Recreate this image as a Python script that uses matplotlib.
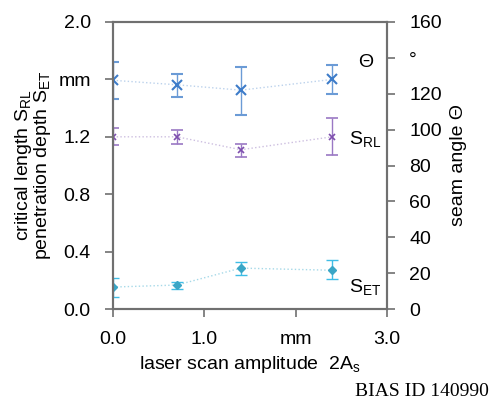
import matplotlib
matplotlib.use("Agg")
import matplotlib.pyplot as plt

plt.rcParams['font.family'] = ['Liberation Sans', 'DejaVu Sans']

x = [0.0, 0.7, 1.4, 2.4]
theta = [127.5, 125.0, 122.0, 128.0]
theta_lo = [117.0, 118.0, 108.0, 120.0]
theta_hi = [137.5, 131.0, 135.0, 136.0]
srl = [1.20, 1.20, 1.11, 1.20]
srl_lo = [1.14, 1.15, 1.06, 1.07]
srl_hi = [1.26, 1.25, 1.15, 1.33]
set_ = [0.153, 0.167, 0.285, 0.270]
set_lo = [0.085, 0.14, 0.24, 0.21]
set_hi = [0.215, 0.19, 0.33, 0.34]

xticks = [0.0, 1.0, 2.0, 3.0]
xticklabels = ['0.0', '1.0', 'mm', '3.0']
lticks = [0.0, 0.4, 0.8, 1.2, 1.6, 2.0]
lticklabels = ['0.0', '0.4', '0.8', '1.2', 'mm', '2.0']
rticks = [0, 20, 40, 60, 80, 100, 120, 140, 160]
rticklabels = ['0', '20', '40', '60', '80', '100', '120', '°', '160']

c_theta = '#3d7cc9'
c_srl = '#7e4fae'
c_set = '#3aa6c6'
gray = '#707070'
fs = 14

fig = plt.figure(figsize=(4.95, 4.04), dpi=100)
ax = fig.add_axes([113/495, 1-309/404, (387-113)/495, (309-22)/404])
ax2 = ax.twinx()

def err(v, lo, hi):
    return [[a - b for a, b in zip(v, lo)], [b - a for a, b in zip(v, hi)]]

ax.plot(x, srl, ':', color='#cdbfe0', lw=1)
ax.errorbar(x, srl, yerr=err(srl, srl_lo, srl_hi), fmt='x', color=c_srl,
            ecolor='#9a78c4', ms=5, mew=1.2, capsize=4, elinewidth=1, capthick=1)
ax.plot(x, set_, ':', color='#a6d9e8', lw=1)
ax.errorbar(x, set_, yerr=err(set_, set_lo, set_hi), fmt='D', color=c_set,
            ecolor='#3fbde6', ms=4, capsize=4, elinewidth=1, capthick=1)
ax2.plot(x, theta, ':', color='#bcd2ec', lw=1)
ax2.errorbar(x, theta, yerr=err(theta, theta_lo, theta_hi), fmt='x', color=c_theta,
             ecolor='#6b9bd6', ms=7, mew=1.5, capsize=4, elinewidth=1, capthick=1)

ax.set_xlim(0, 3)
ax.set_ylim(0, 2)
ax2.set_ylim(0, 160)
ax.set_xticks(xticks)
ax.set_xticklabels(xticklabels)
ax.set_yticks(lticks)
ax.set_yticklabels(lticklabels)
ax2.set_yticks(rticks)
ax2.set_yticklabels(rticklabels)

for a in (ax, ax2):
    for s in a.spines.values():
        s.set_color(gray)
        s.set_linewidth(1.5)
    a.tick_params(direction='out', length=6, width=1.2, color=gray, labelsize=fs, pad=10)

ax.set_xlabel('laser scan amplitude  2A$_\\mathregular{s}$', fontsize=fs, labelpad=4)
ax.set_ylabel('critical length S$_\\mathregular{RL}$\npenetration depth S$_\\mathregular{ET}$',
              fontsize=fs, linespacing=0.85, labelpad=4)
ax2.set_ylabel('seam angle \u0398', fontsize=fs, labelpad=6)

ax.text(2.58, 1.18, 'S$_\\mathregular{RL}$', fontsize=fs, ha='left', va='center')
ax.text(2.58, 0.145, 'S$_\\mathregular{ET}$', fontsize=fs, ha='left', va='center')
ax.text(2.77, 1.72, '\u0398', fontsize=fs, ha='center', va='center')

fig.text(489/495, 1-392/404, 'BIAS ID 140990', fontsize=14, family='Liberation Serif',
         ha='right', va='center')

fig.savefig('out.png', dpi=100)
